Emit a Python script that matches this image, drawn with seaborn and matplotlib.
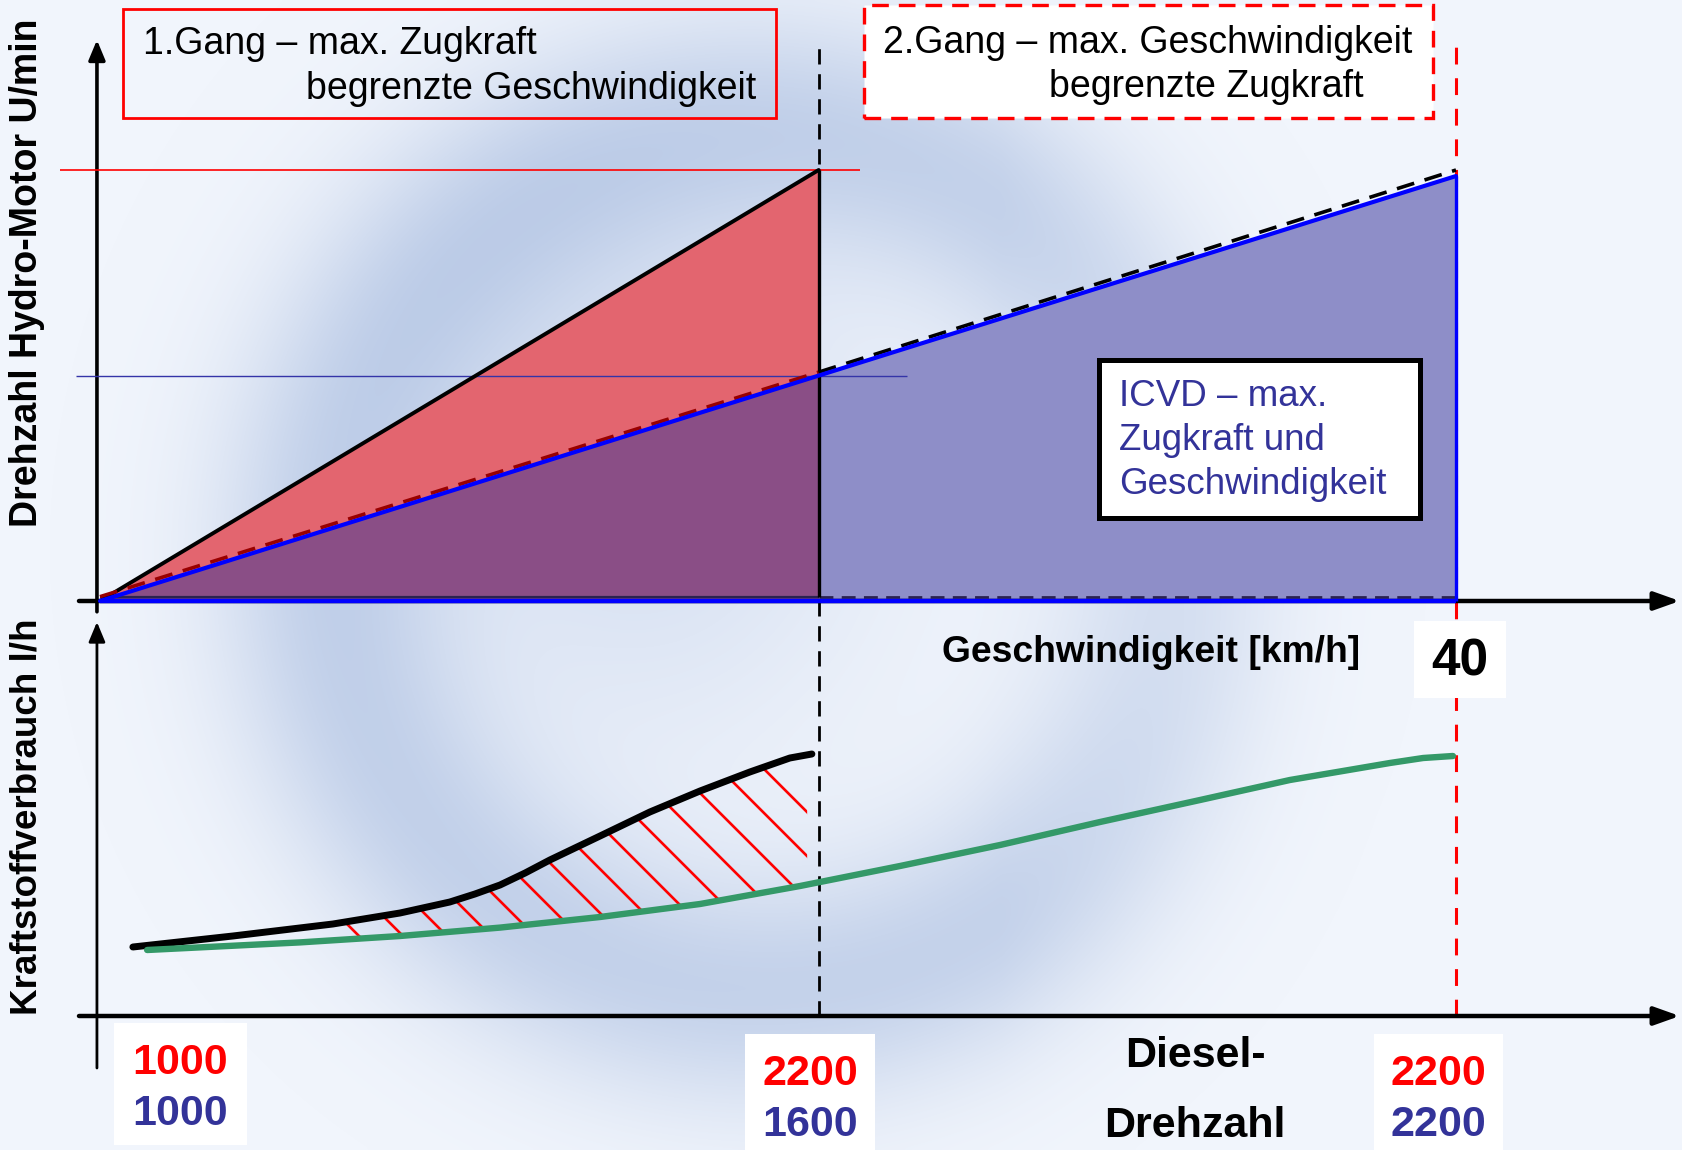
import numpy as np
import matplotlib
matplotlib.use("Agg")
import matplotlib.pyplot as plt
from matplotlib.colors import LinearSegmentedColormap
from matplotlib.patches import Rectangle
import seaborn as sns

# ---------------- data ----------------
# Geschwindigkeit [km/h]
v_shift = 21.2      # Schaltpunkt 1. -> 2. Gang
v_max = 40.0

# Drehzahl Hydro-Motor (relativ, 100 = max. im 1. Gang)
gang1_v = [0.0, 21.2]
gang1_n = [0.0, 100.0]
gang2_v = [0.0, 21.2, 40.0]
gang2_n = [1.0, 53.1, 100.0]
icvd_v = [0.0, 21.2, 40.0]
icvd_n = [0.0, 52.3, 98.6]
base_n = 0.9

# Kraftstoffverbrauch (relativ)
fuel_gang_v = [0.97, 3.92, 6.87, 8.85, 10.32, 11.06, 11.80, 12.54, 13.27, 14.75,
               16.22, 17.70, 19.17, 20.35, 21.0]
fuel_gang_q = [17.25, 20.0, 23.0, 25.75, 28.5, 30.5, 32.75, 35.75, 39.0, 45.0,
               51.0, 56.25, 61.0, 64.5, 65.5]
fuel_icvd_v = [1.39, 5.90, 8.85, 11.80, 14.75, 17.70, 20.65,
               23.60, 26.55, 29.50, 32.45, 35.10, 38.05, 39.03, 39.91]
fuel_icvd_q = [16.5, 18.4, 20.0, 22.1, 24.75, 28.0, 32.5,
               37.5, 42.75, 48.5, 54.0, 59.0, 63.25, 64.5, 65.0]

# Diesel-Drehzahl [U/min]
diesel_gang = ["1000", "2200", "2200"]
diesel_icvd = ["1000", "1600", "2200"]

# ---------------- layout ----------------
sns.set_theme(style="white")
plt.rcParams["font.family"] = ["Liberation Sans", "DejaVu Sans"]
plt.rcParams["text.color"] = "black"

W, H = 1683, 1150
PX_V = 33.9     # px per km/h
PX_N = 4.31     # px per hydro unit
PX_Q = 4.0      # px per fuel unit
X0, Y_TOP0, Y_BOT0 = 100, 601, 1016

def fx(px):
    return px / W

def fy(py):
    return 1 - py / H

fig = plt.figure(figsize=(W / 100, H / 100), dpi=100)

# soft background
ax_bg = fig.add_axes([0, 0, 1, 1], zorder=0)
yy, xx = np.mgrid[0:H:4, 0:W:4]
r = np.hypot(xx - 760, yy - 560)
field = 0.75 * np.exp(-((r - 430) / 120) ** 2)
field += 0.45 * np.exp(-(((xx - 640) / 240) ** 2 + ((yy - 470) / 280) ** 2))
field *= np.clip((1500 - xx) / 500, 0.25, 1)
field = np.clip(field, 0, 1)
cmap = LinearSegmentedColormap.from_list("bg", ["#F1F5FC", "#B6C7E5"])
ax_bg.imshow(field, extent=[0, 1, 0, 1], aspect="auto", cmap=cmap,
             origin="upper", interpolation="bicubic", vmin=0, vmax=1)
ax_bg.set_xlim(0, 1)
ax_bg.set_ylim(0, 1)
ax_bg.axis("off")

ax_top = fig.add_axes([0, fy(610), 1, 610 / H], zorder=1)
ax_bot = fig.add_axes([0, 0, 1, 540 / H], zorder=1)
for ax in (ax_top, ax_bot):
    ax.set_xlim(-X0 / PX_V, (W - X0) / PX_V)
    ax.axis("off")
ax_top.set_ylim((Y_TOP0 - 610) / PX_N, Y_TOP0 / PX_N)
ax_bot.set_ylim((Y_BOT0 - H) / PX_Q, (Y_BOT0 - 610) / PX_Q)

# ---------------- upper chart ----------------
ax_top.fill_between(gang1_v, icvd_n[:2], gang1_n, color="#E3656F", lw=0, zorder=1)
ax_top.fill_between(icvd_v[:2], 0, icvd_n[:2], color="#8A4E86", lw=0, zorder=1)
ax_top.fill_between(icvd_v[1:], 0, icvd_n[1:], color="#8E8EC8", lw=0, zorder=1)

# guide lines
ax_top.vlines(v_shift, -3, (Y_TOP0 - 40) / PX_N, color="black", lw=2.0,
              linestyles=[(0, (5.5, 3.5))], zorder=0.5)
ax_top.vlines(v_max, -3, (Y_TOP0 - 40) / PX_N, color="#FF0000", lw=2.2,
              linestyles=[(0, (5.5, 4.5))], zorder=0.5)
ax_top.hlines(gang1_n[1], -1.18, 22.42, color="#FF0000", lw=1.2, zorder=3)
ax_top.hlines(icvd_n[1], -0.71, 23.8, color="#3434A8", lw=1.0, zorder=3)

# base lines
ax_top.hlines(base_n, 0, v_shift, color="#2A2350", lw=1.6, zorder=3)
ax_top.plot([v_shift, v_max], [base_n, base_n], color="#2A2350", lw=2.0,
            ls=(0, (5, 3)), zorder=3)

# axes with arrows
ax_top.annotate("", xy=(46.6, 0), xytext=(-0.62, 0),
                arrowprops=dict(arrowstyle="-|>,head_length=0.7,head_width=0.25",
                                lw=3.2, color="black", mutation_scale=22,
                                shrinkA=0, shrinkB=0), annotation_clip=False, zorder=2)
ax_top.annotate("", xy=(-0.09, (Y_TOP0 - 40) / PX_N), xytext=(-0.09, -2.5),
                arrowprops=dict(arrowstyle="-|>,head_length=0.6,head_width=0.25",
                                lw=2.6, color="black", mutation_scale=20,
                                shrinkA=0, shrinkB=0), annotation_clip=False, zorder=2)

# 1. Gang
sns.lineplot(x=gang1_v, y=gang1_n, ax=ax_top, color="black", lw=2.8, zorder=4)
ax_top.vlines(v_shift, base_n, gang1_n[1], color="black", lw=2.4, zorder=4)
# 2. Gang
ax_top.plot(gang2_v[:2], gang2_n[:2], color="#990000", lw=2.6,
            ls=(0, (5, 3)), zorder=4)
ax_top.plot(gang2_v[1:], gang2_n[1:], color="black", lw=2.6,
            ls=(0, (5, 3)), zorder=4)
# ICVD
sns.lineplot(x=icvd_v, y=icvd_n, ax=ax_top, color="#0000FF", lw=3.0, zorder=5)
ax_top.vlines(v_max, 0, icvd_n[-1], color="#0000FF", lw=2.4, zorder=5)
ax_top.hlines(0, 0, v_max, color="#0000FF", lw=3.2, zorder=5)

# ---------------- lower chart ----------------
ax_bot.vlines(v_shift, 0, (Y_BOT0 - 610) / PX_Q + 2, color="black", lw=2.0,
              linestyles=[(0, (5.5, 3.5))], zorder=0.5)
ax_bot.vlines(v_max, 0, (Y_BOT0 - 610) / PX_Q + 2, color="#FF0000", lw=2.2,
              linestyles=[(0, (5.5, 4.5))], zorder=0.5)

ax_bot.annotate("", xy=(46.6, 0), xytext=(-0.62, 0),
                arrowprops=dict(arrowstyle="-|>,head_length=0.7,head_width=0.25",
                                lw=3.2, color="black", mutation_scale=22,
                                shrinkA=0, shrinkB=0), annotation_clip=False, zorder=2)
ax_bot.annotate("", xy=(-0.09, (Y_BOT0 - 622) / PX_Q), xytext=(-0.09, (Y_BOT0 - 1068) / PX_Q),
                arrowprops=dict(arrowstyle="-|>,head_length=0.6,head_width=0.25",
                                lw=2.0, color="black", mutation_scale=20,
                                shrinkA=0, shrinkB=0), annotation_clip=False, zorder=2)

# red hatching between the two fuel curves
v_h = np.linspace(6.9, 20.86, 300)
clip = ax_bot.fill_between(v_h, np.interp(v_h, fuel_icvd_v, fuel_icvd_q),
                           np.interp(v_h, fuel_gang_v, fuel_gang_q),
                           facecolor="none", edgecolor="none")
clip_path = clip.get_paths()[0]
for c in np.arange(5, 600, 44):
    vv = np.array([4.0, 23.0])
    qq = (Y_BOT0 - X0 - c - PX_V * vv) / PX_Q
    ln, = ax_bot.plot(vv, qq, color="#FF0000", lw=1.9, zorder=3)
    ln.set_clip_path(clip_path, ax_bot.transData)

sns.lineplot(x=fuel_gang_v, y=fuel_gang_q, ax=ax_bot, color="black", lw=5.0,
             solid_capstyle="round", zorder=4)
sns.lineplot(x=fuel_icvd_v, y=fuel_icvd_q, ax=ax_bot, color="#349968", lw=4.6,
             solid_capstyle="round", zorder=5)

# ---------------- boxes and text ----------------
def box(x0, y0, x1, y1, **kw):
    rect = Rectangle((fx(x0), fy(y1)), fx(x1) - fx(x0), (y1 - y0) / H,
                     transform=fig.transFigure, zorder=5, **kw)
    fig.add_artist(rect)

def label(px, py, s, **kw):
    fig.text(fx(px), fy(py), s, va="center", zorder=6, **kw)

box(123, 9, 776, 118, facecolor="none", edgecolor="#FF0000", lw=2.0)
label(143, 44, "1.Gang – max. Zugkraft", ha="left", fontsize=27)
label(756, 89, "begrenzte Geschwindigkeit", ha="right", fontsize=27)

box(864, 5, 1433, 118, facecolor="white", edgecolor="#FF0000", lw=2.4,
    linestyle=(0, (5, 3)))
label(883, 43, "2.Gang – max. Geschwindigkeit", ha="left", fontsize=27)
label(1049, 87, "begrenzte Zugkraft", ha="left", fontsize=27)

box(1099, 360, 1420, 518, facecolor="white", edgecolor="black", lw=3.6)
for py, s in zip([396, 440, 485], ["ICVD – max.", "Zugkraft und", "Geschwindigkeit"]):
    label(1119, py, s, ha="left", fontsize=26.5, color="#333399")

label(1151, 653, "Geschwindigkeit [km/h]", ha="center", fontsize=26.8,
      fontweight="bold")
box(1414, 621, 1506, 698, facecolor="white", edgecolor="none")
label(1460, 662, f"{v_max:.0f}", ha="center", fontsize=37, fontweight="bold")

label(27, 273, "Drehzahl Hydro-Motor U/min", ha="center", rotation=90,
      fontsize=27, fontweight="bold")
label(27, 817, "Kraftstoffverbrauch l/h", ha="center", rotation=90,
      fontsize=26.5, fontweight="bold")

label(1195, 1056, "Diesel-", ha="center", fontsize=31, fontweight="bold")
label(1195, 1126, "Drehzahl", ha="center", fontsize=31, fontweight="bold")

rpm_boxes = [(114, 1023, 247, 1145), (745, 1034, 875, 1150), (1374, 1034, 1503, 1150)]
for (x0, y0, x1, y1), s_gang, s_icvd in zip(rpm_boxes, diesel_gang, diesel_icvd):
    box(x0, y0, x1, y1, facecolor="white", edgecolor="none")
    cx = (x0 + x1) / 2
    label(cx, y0 + 40, s_gang, ha="center", fontsize=31, fontweight="bold",
          color="#FF0000")
    label(cx, y0 + 91, s_icvd, ha="center", fontsize=31, fontweight="bold",
          color="#333399")

fig.savefig("out.png", dpi=100)
